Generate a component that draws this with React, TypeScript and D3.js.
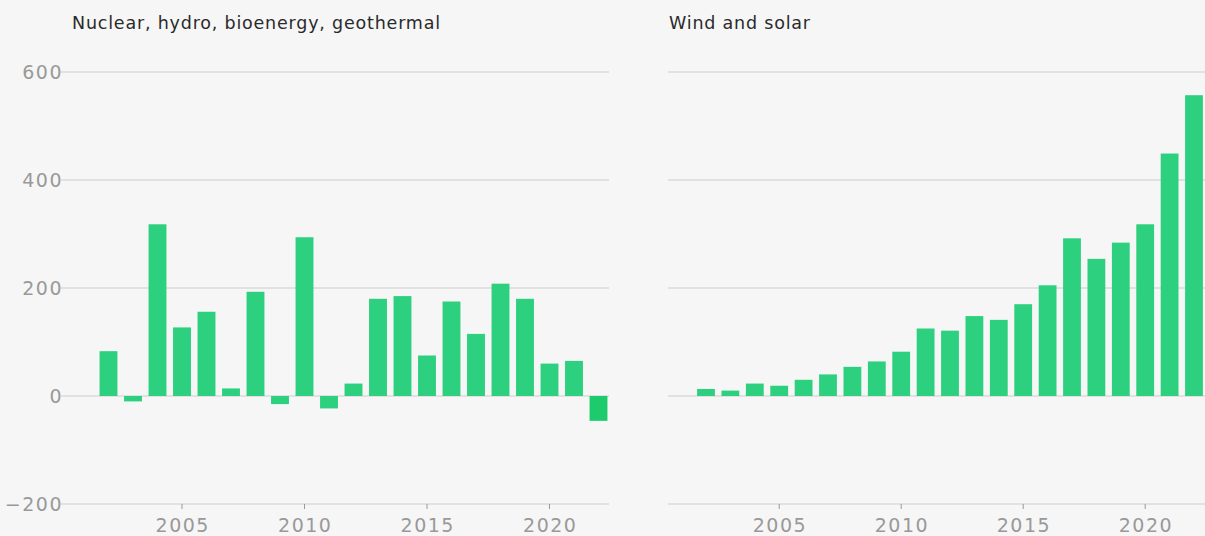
import * as d3 from "d3";

const years = d3.range(2002, 2023).map(String);
const otherValues = [83, -10, 318, 127, 156, 14, 193, -15, 294, -23, 23, 180, 185, 75, 175, 115, 208, 180, 60, 65, -46];
const windSolarValues = [13, 10, 23, 19, 30, 40, 54, 64, 82, 125, 121, 148, 141, 170, 205, 292, 254, 284, 318, 449, 557];
const yTicks = [-200, 0, 200, 400, 600];
const xTicks = ["2005", "2010", "2015", "2020"];

const W = 1205;
const H = 536;
const font = "'DejaVu Sans', sans-serif";
const barColor = "#2dd07e";
const negColor = "#1dcb6c";
const gridColor = "#cccccc";
const labelColor = "#999999";

const y = d3.scaleLinear([-200, 600], [504, 72]);

type PanelProps = {
  title: string;
  titleX: number;
  values: number[];
  gridX: [number, number];
  bandX: [number, number];
  showYLabels: boolean;
};

function Panel({ title, titleX, values, gridX, bandX, showYLabels }: PanelProps) {
  const x = d3.scaleBand(years, bandX).paddingInner(0.27).paddingOuter(0.135);
  return (
    <g>
      <text x={titleX} y={29} fontSize={17.5} letterSpacing={0.8} fill="#2a2a2a" fontFamily={font}>
        {title}
      </text>
      {yTicks.map((t) => (
        <g key={t}>
          <line x1={gridX[0]} x2={gridX[1]} y1={y(t)} y2={y(t)} stroke={gridColor} strokeWidth={1.2} />
          {showYLabels && (
            <text
              x={gridX[0] + 2}
              y={y(t)}
              dy="0.36em"
              textAnchor="end"
              fontSize={19}
              letterSpacing={1.5}
              fill={labelColor}
              fontFamily={font}
            >
              {t < 0 ? `\u2212${Math.abs(t)}` : t}
            </text>
          )}
        </g>
      ))}
      {xTicks.map((t) => {
        const cx = (x(t) ?? 0) + x.bandwidth() / 2;
        return (
          <g key={t}>
            <line x1={cx} x2={cx} y1={y(-200)} y2={y(-200) + 5} stroke={labelColor} strokeWidth={1} />
            <text
              x={cx + 0.75}
              y={532}
              textAnchor="middle"
              fontSize={19}
              letterSpacing={1.5}
              fill={labelColor}
              fontFamily={font}
            >
              {t}
            </text>
          </g>
        );
      })}
      {values.map((v, i) => (
        <rect
          key={years[i]}
          x={x(years[i])}
          width={x.bandwidth()}
          y={y(Math.max(0, v))}
          height={Math.abs(y(v) - y(0))}
          fill={v < 0 && i === values.length - 1 ? negColor : barColor}
        />
      ))}
    </g>
  );
}

export default function App() {
  return (
    <svg
      width={W}
      height={H}
      style={{ position: "absolute", left: 0, top: 0, background: "#f6f6f6" }}
    >
      <Panel
        title="Nuclear, hydro, bioenergy, geothermal"
        titleX={72}
        values={otherValues}
        gridX={[61, 609]}
        bandX={[96.25, 610.75]}
        showYLabels={true}
      />
      <Panel
        title="Wind and solar"
        titleX={669}
        values={windSolarValues}
        gridX={[668, 1230]}
        bandX={[693.8, 1206.2]}
        showYLabels={false}
      />
    </svg>
  );
}
